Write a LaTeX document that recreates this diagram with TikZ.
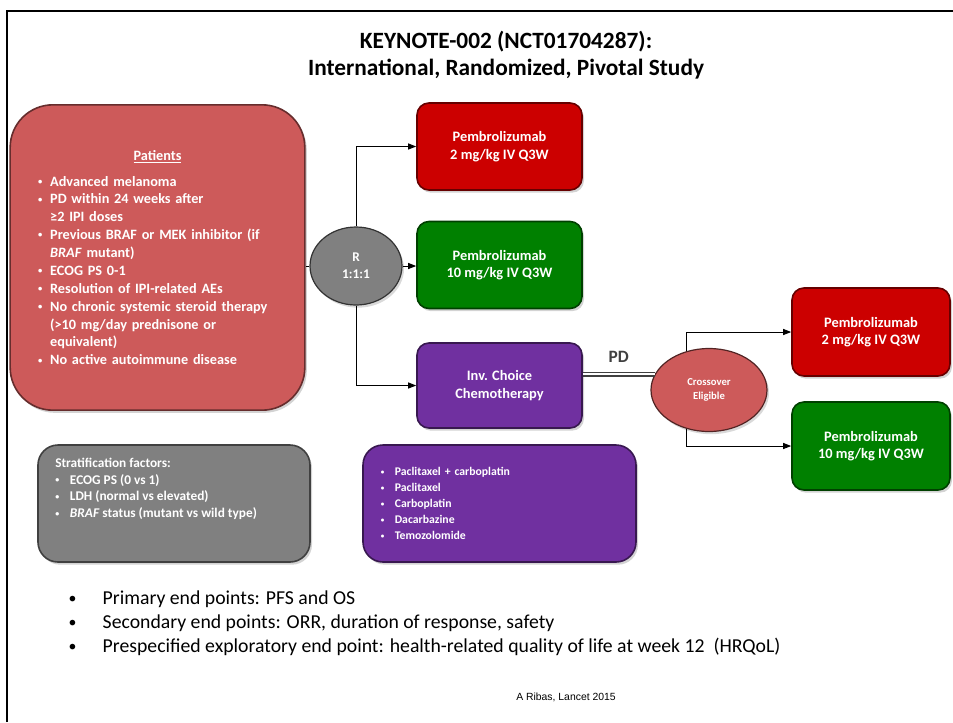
\documentclass[tikz,border=0pt]{standalone}
\usepackage{fontspec}
\setmainfont{Carlito}
\newfontfamily\arialfont{Liberation Sans}
\usepackage{tikz}
\usetikzlibrary{arrows.meta,shapes.geometric,shadows}

\definecolor{patred}{RGB}{205,90,90}
\definecolor{armred}{RGB}{204,0,0}
\definecolor{armgreen}{RGB}{0,128,0}
\definecolor{chemopurple}{RGB}{112,48,160}
\definecolor{stratgray}{RGB}{128,128,128}
\definecolor{pdgray}{RGB}{64,64,64}

\newcommand{\bul}[1]{\makebox[#1][l]{\raisebox{0.12em}{\scalebox{0.6}{\textbullet}}}}
\newcommand{\bigbul}[1]{\makebox[#1][l]{\raisebox{0.05em}{\scalebox{0.8}{\textbullet}}}}

\begin{document}
\begin{tikzpicture}[x=0.75pt,y=-0.75pt,
  box/.style={rectangle, rounded corners=9pt, fill=#1, draw=#1!50!black, line width=1.2pt,
    drop shadow={shadow xshift=1.5pt,shadow yshift=-2pt,opacity=0.35},
    text=white, align=center},
  oval/.style={ellipse, fill=#1, draw=#1!40!black, line width=0.9pt, inner sep=0pt,
    drop shadow={shadow xshift=1.5pt,shadow yshift=-2pt,opacity=0.3},
    text=white, align=center},
  arm/.style={box=#1, minimum width=123.75pt, minimum height=65.25pt,
    font=\bfseries\fontsize{10.8}{13}\selectfont},
  arr/.style={-{Triangle[length=6pt,width=4.5pt]}, line width=0.75pt},
  pdline/.style={double=white, double distance=1.6pt, line width=0.8pt, draw=pdgray}]
  \useasboundingbox (0,0) rectangle (953,722);
  % slide frame
  \draw[line width=2.2pt] (7,722) -- (7,11) -- (953,11);
  \node[font=\bfseries\fontsize{17.5}{20.5}\selectfont, align=center] (title) at (506,55)
    {KEYNOTE-002 (NCT01704287):\\International, Randomized, Pivotal Study};

  % patients
  \node[box=patred, rounded corners=32pt, minimum width=221pt, minimum height=229pt,
    text width=179pt, align=left, font=\bfseries\fontsize{10.7}{13.4}\selectfont] (pat) at (157.5,257.5)
    {\makebox[179pt]{\underline{Patients}}\\[6pt]
     \bul{9pt}Advanced melanoma\\
     \bul{9pt}PD within 24 weeks after\\
     \hspace*{9pt}≥2 IPI doses\\
     \bul{9pt}Previous BRAF or MEK inhibitor (if\\
     \hspace*{9pt}\textit{BRAF} mutant)\\
     \bul{9pt}ECOG PS 0-1\\
     \bul{9pt}Resolution of IPI-related AEs\\
     \bul{9pt}No chronic systemic steroid therapy\\
     \hspace*{9pt}(>10 mg/day prednisone or\\
     \hspace*{9pt}equivalent)\\
     \bul{9pt}No active autoimmune disease};

  % randomisation and arms
  \node[oval=stratgray, minimum width=69pt, minimum height=58.5pt,
    font=\bfseries\fontsize{10}{13}\selectfont] (rand) at (356,266) {R\\1:1:1};
  \node[arm=armred] (arm1) at (499.5,146.5) {Pembrolizumab\\2 mg/kg IV Q3W};
  \node[arm=armgreen] (arm2) at (499.5,265) {Pembrolizumab\\10 mg/kg IV Q3W};
  \node[arm=chemopurple, minimum height=63.75pt] (arm3) at (499.5,385.5) {Inv. Choice\\Chemotherapy};

  % crossover
  \node[oval=patred, minimum width=87pt, minimum height=62.25pt,
    font=\bfseries\fontsize{8}{11}\selectfont] (cross) at (709,390) {Crossover\\Eligible};
  \node[arm=armred, minimum width=118.5pt, minimum height=66pt] (arm4) at (871,332) {Pembrolizumab\\2 mg/kg IV Q3W};
  \node[arm=armgreen, minimum width=118.5pt, minimum height=66pt] (arm5) at (871,446) {Pembrolizumab\\10 mg/kg IV Q3W};

  % lower boxes
  \node[box=stratgray, rounded corners=15pt, minimum width=204pt, minimum height=87.75pt] (strat) at (174,503.5) {};
  \node[anchor=north west, inner sep=0pt, text=white, align=left,
    font=\bfseries\fontsize{10}{12.5}\selectfont] (strattxt) at (55,458)
    {Stratification factors:\\
     \bul{11pt}ECOG PS (0 vs 1)\\
     \bul{11pt}LDH (normal vs elevated)\\
     \bul{11pt}\textit{BRAF} status (mutant vs wild type)};
  \node[box=chemopurple, rounded corners=15pt, minimum width=204.75pt, minimum height=87.75pt,
    text width=178pt, align=left, font=\bfseries\fontsize{8.8}{12}\selectfont] (chemo) at (499.5,503.5)
    {\bul{10.5pt}Paclitaxel + carboplatin\\
     \bul{10.5pt}Paclitaxel\\
     \bul{10.5pt}Carboplatin\\
     \bul{10.5pt}Dacarbazine\\
     \bul{10.5pt}Temozolomide};

  % connectors
  \draw[line width=0.75pt] (pat.east |- rand.west) -- (rand.west);
  \draw[arr] (rand.north) |- (arm1.west);
  \draw[arr] (rand.east) -- (rand.east -| arm2.west);
  \draw[arr] (rand.south) |- (arm3.west);
  \draw[pdline] (arm3.east |- cross.164) -- (cross.164)
    node[midway, above=5.5pt, text=pdgray, font=\bfseries\fontsize{13}{15}\selectfont] (pd) {PD};
  \draw[arr] (cross.120) |- (arm4.west);
  \draw[arr] (cross.240) |- (arm5.west);

  % end points
  \node[anchor=west, align=left, font=\fontsize{14.8}{18}\selectfont] (ends) at (64,623)
    {\bigbul{25.5pt}Primary end points: PFS and OS\\
     \bigbul{25.5pt}Secondary end points: ORR, duration of response, safety\\
     \bigbul{25.5pt}Prespecified exploratory end point: health-related quality of life at week 12\ \ (HRQoL)};
  \node[font=\arialfont\fontsize{7.8}{9}\selectfont] (src) at (566,697) {A Ribas, Lancet 2015};
\end{tikzpicture}
\end{document}
